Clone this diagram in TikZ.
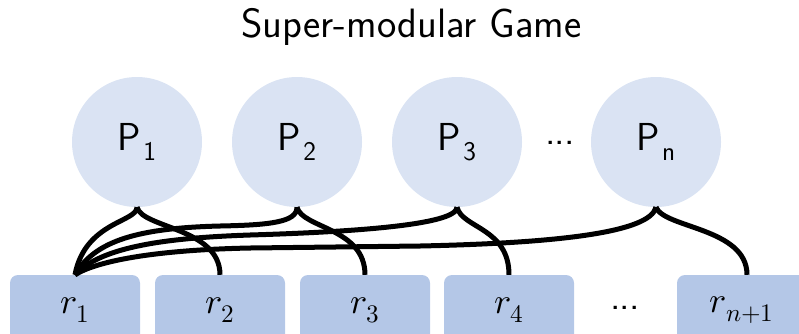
\documentclass[tikz,border=0pt]{standalone}
\usepackage{fontspec}
\usepackage{unicode-math}
\setmathfont{Latin Modern Math}
\definecolor{circfill}{HTML}{DAE3F3}
\definecolor{boxfill}{HTML}{B4C7E7}
\newcommand\psub[1]{\kern2pt\raisebox{-10pt}{\fontsize{27}{27}\selectfont #1}}
\newcommand\mydots{.\kern-1pt.\kern-1pt.}
\tikzset{
  pcirc/.style={circle, fill=circfill, minimum size=130pt, inner sep=0pt,
    font=\fontsize{39}{44}\selectfont\sffamily},
  rbox/.style={rectangle, rounded corners=8pt, fill=boxfill, minimum width=130pt,
    minimum height=70pt, inner sep=0pt, font=\fontsize{36}{40}\selectfont},
  conn/.style={line width=5pt, black, line join=round},
  dotsnode/.style={font=\fontsize{40}{44}\selectfont\sffamily, inner sep=0pt}
}
\begin{document}
\begin{tikzpicture}[x=1pt,y=-1pt]
\useasboundingbox (0,0) rectangle (799,333);
\clip (0,0) rectangle (799,333);
\node[anchor=base, font=\fontsize{41}{48}\selectfont\sffamily] (title) at (411.5,37) {Super-modular Game};
% players
\node[pcirc] (P1) at (137,142) {P\psub{1}};
\node[pcirc] (P2) at (297,142) {P\psub{2}};
\node[pcirc] (P3) at (457,142) {P\psub{3}};
\node[pcirc] (Pn) at (656,142) {P\psub{n}};
\node[dotsnode] (pdots) at (560,143) {\mydots};
% resources
\node[rbox] (r1) at (75,310) {$r_1$};
\node[rbox] (r2) at (220,310) {$r_2$};
\node[rbox] (r3) at (365,310) {$r_3$};
\node[rbox] (r4) at (509,310) {$r_4$};
\node[rbox] (r5) at (742,310) {$r_{n+1}$};
\node[dotsnode] (rdots) at (625,308) {\mydots};
% connectors to r1
\draw[conn] (P1.south) .. controls +(0,15) and +(10,-53) .. (r1.north);
\draw[conn] (P2.south) .. controls +(0,15) and (270,225) .. (220,226)
  .. controls (140,228) and (95,240) .. (r1.north);
\draw[conn] (P3.south) .. controls +(0,18) and (350,232) .. (250,235)
  .. controls (160,238) and (100,248) .. (r1.north);
\draw[conn] (Pn.south) .. controls +(-6,25) and (560,243) .. (420,246)
  -- (250,248) .. controls (150,250) and (95,262) .. (r1.north);
% connectors to own resource
\draw[conn] (P1.south) .. controls +(5,21) and +(0,-47) .. (r2.north);
\draw[conn] (P2.south) .. controls +(5,21) and +(0,-47) .. (r3.north);
\draw[conn] (P3.south) .. controls +(5,21) and +(0,-47) .. (r4.north);
\draw[conn] (Pn.south) .. controls +(8,21) and +(0,-47) .. ([xshift=5pt]r5.north);
\end{tikzpicture}
\end{document}
